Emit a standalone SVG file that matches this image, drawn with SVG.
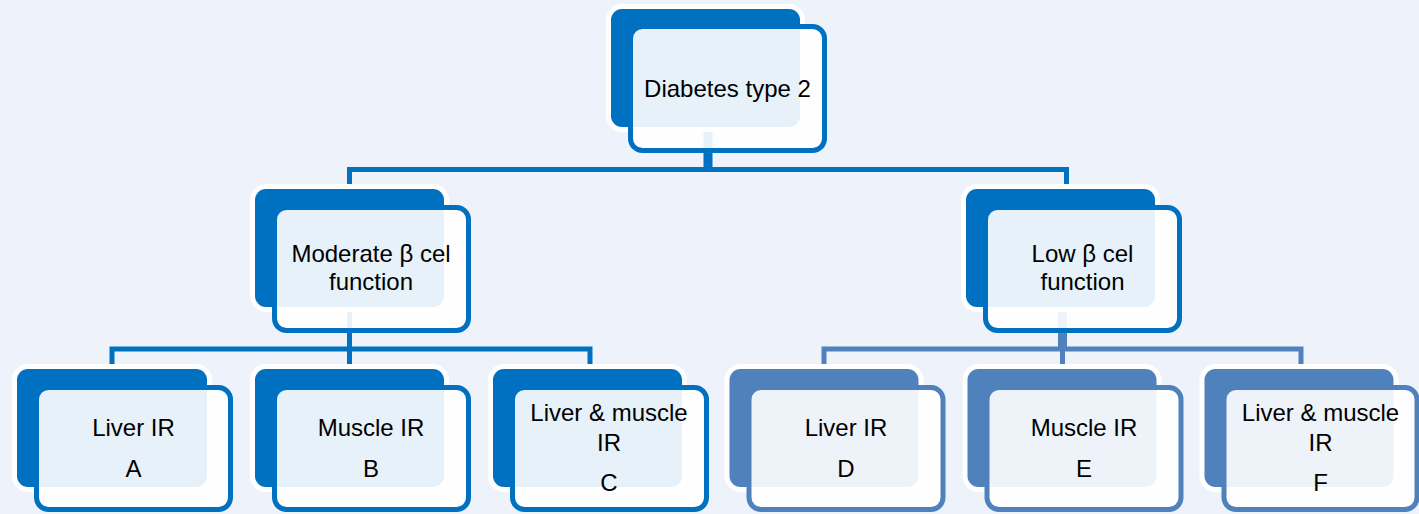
<svg xmlns="http://www.w3.org/2000/svg" width="1419" height="514" viewBox="0 0 1419 514">
  <style>
    .bg { fill: #EEF2FA; }
    .back { stroke: #FFFFFF; stroke-width: 10; paint-order: stroke; }
    .front { fill: #FFFFFF; fill-opacity: 0.9; stroke-width: 5; }
    .dk .back { fill: #0070C0; }
    .dk .front { stroke: #0070C0; }
    .lt .back { fill: #4F81BD; }
    .lt .front { stroke: #4F81BD; }
    .conn { fill: none; stroke-width: 5; }
    .c-dk { stroke: #0070C0; }
    .c-lt { stroke: #4F81BD; }
    text { font-family: "Liberation Sans", Arial, sans-serif; font-size: 24px; fill: #000000; text-anchor: middle; }
  </style>
  <rect class="bg" x="0" y="0" width="1419" height="514"/>

  <g id="connectors">
    <path class="conn c-dk" d="M706 110 V169.5 M710 110 V169.5 M349.5 169.5 H1066.5 M349.5 167 V200 M1066.5 167 V200"/>
    <path class="conn c-dk" d="M349.5 290 V349 M112 349 H590 M112 346.5 V380 M349.5 349 V380 M590 346.5 V380"/>
    <path class="conn c-lt" d="M1060.5 290 V349 M1064.5 290 V349 M824 349 H1301 M824 346.5 V380 M1062.5 349 V380 M1301 346.5 V380"/>
  </g>

  <g id="node-top" class="dk">
    <rect class="back" x="611" y="9" width="189" height="118" rx="11"/>
    <rect class="front" x="630.5" y="26.5" width="194" height="124" rx="12"/>
    <text x="727.5" y="97">Diabetes type 2</text>
  </g>

  <g id="node-moderate" class="dk">
    <rect class="back" x="255" y="189" width="189" height="118" rx="11"/>
    <rect class="front" x="274.5" y="207.5" width="194" height="123" rx="12"/>
    <text x="371" y="262">Moderate β cel</text>
    <text x="371" y="290">function</text>
  </g>

  <g id="node-low" class="dk">
    <rect class="back" x="966" y="189" width="189" height="118" rx="11"/>
    <rect class="front" x="985.5" y="207.5" width="194" height="123" rx="12"/>
    <text x="1082.5" y="262">Low β cel</text>
    <text x="1082.5" y="290">function</text>
  </g>

  <g id="node-a" class="dk">
    <rect class="back" x="17" y="369" width="190" height="118" rx="11"/>
    <rect class="front" x="36.5" y="387.5" width="194" height="122" rx="12"/>
    <text x="133.5" y="436">Liver IR</text>
    <text x="133.5" y="477">A</text>
  </g>

  <g id="node-b" class="dk">
    <rect class="back" x="255" y="369" width="189" height="118" rx="11"/>
    <rect class="front" x="274.5" y="387.5" width="194" height="122" rx="12"/>
    <text x="371" y="436">Muscle IR</text>
    <text x="371" y="477">B</text>
  </g>

  <g id="node-c" class="dk">
    <rect class="back" x="493" y="369" width="189" height="118" rx="11"/>
    <rect class="front" x="512.5" y="387.5" width="194" height="122" rx="12"/>
    <text x="609" y="421">Liver &amp; muscle</text>
    <text x="609" y="451">IR</text>
    <text x="609" y="491">C</text>
  </g>

  <g id="node-d" class="lt">
    <rect class="back" x="729.5" y="369" width="189" height="118" rx="11"/>
    <rect class="front" x="749" y="387.5" width="194" height="122" rx="12"/>
    <text x="846" y="436">Liver IR</text>
    <text x="846" y="477">D</text>
  </g>

  <g id="node-e" class="lt">
    <rect class="back" x="967.5" y="369" width="189" height="118" rx="11"/>
    <rect class="front" x="987" y="387.5" width="194" height="122" rx="12"/>
    <text x="1084" y="436">Muscle IR</text>
    <text x="1084" y="477">E</text>
  </g>

  <g id="node-f" class="lt">
    <rect class="back" x="1204.5" y="369" width="189" height="118" rx="11"/>
    <rect class="front" x="1224" y="387.5" width="193" height="122" rx="12"/>
    <text x="1320.5" y="421">Liver &amp; muscle</text>
    <text x="1320.5" y="451">IR</text>
    <text x="1320.5" y="491">F</text>
  </g>
</svg>
